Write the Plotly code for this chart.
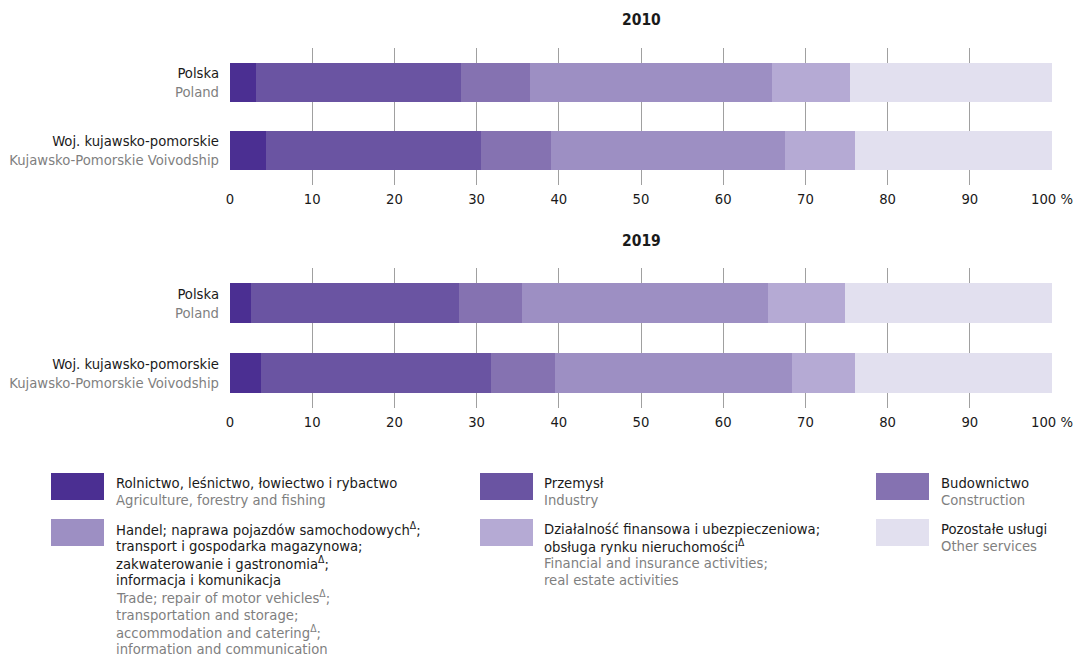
import plotly.graph_objects as go

OFF = 8  # page body margin
W, H = 1082 - OFF, 658 - OFF
FONT = "DejaVu Sans Condensed, Liberation Sans Narrow, sans-serif"
FS = 14.7
BLACK = "#1a1a1a"
GREY = "#7f7f7f"

# ---------------- data ----------------
regions_pl = ["Polska", "Woj. kujawsko-pomorskie"]
regions_en = ["Poland", "Kujawsko-Pomorskie Voivodship"]
years = ["2010", "2019"]

sectors_en = [
    "Agriculture, forestry and fishing",
    "Industry",
    "Construction",
    "Trade; repair of motor vehicles; transportation and storage; accommodation and catering; information and communication",
    "Financial and insurance activities; real estate activities",
    "Other services",
]
colors = ["#4b2f92", "#6a54a2", "#8572b1", "#9d8fc3", "#b5aad4", "#e2e0ef"]

# shares in % (sector order as above)
poland_2010 = [3.2, 24.9, 8.4, 29.4, 9.5, 24.6]
kujawsko_2010 = [4.4, 26.1, 8.5, 28.5, 8.5, 24.0]
poland_2019 = [2.5, 25.4, 7.6, 30.0, 9.3, 25.2]
kujawsko_2019 = [3.8, 27.9, 7.8, 28.9, 7.6, 24.0]

x_ticks = [0, 10, 20, 30, 40, 50, 60, 70, 80, 90, 100]
x_tick_labels = ["0", "10", "20", "30", "40", "50", "60", "70", "80", "90", "100 %"]

# legend text, line by line (Polish lines, English lines)
legend_lines = [
    (["Rolnictwo, leśnictwo, łowiectwo i rybactwo"], ["Agriculture, forestry and fishing"]),
    (["Przemysł"], ["Industry"]),
    (["Budownictwo"], ["Construction"]),
    (["Handel; naprawa pojazdów samochodowych<sup>Δ</sup>;", "transport i gospodarka magazynowa;",
      "zakwaterowanie i gastronomia<sup>Δ</sup>;", "informacja i komunikacja"],
     ["Trade; repair of motor vehicles<sup>Δ</sup>;", "transportation and storage;",
      "accommodation and catering<sup>Δ</sup>;", "information and communication"]),
    (["Działalność finansowa i ubezpieczeniowa;", "obsługa rynku nieruchomości<sup>Δ</sup>"],
     ["Financial and insurance activities;", "real estate activities"]),
    (["Pozostałe usługi"], ["Other services"]),
]

# ---------------- figure ----------------
def px_x(x):
    return (x - OFF) / W

def px_y(y):
    return 1 - (y - OFF) / H

fig = go.Figure()
series = {"2010": (poland_2010, kujawsko_2010), "2019": (poland_2019, kujawsko_2019)}
for k, year in enumerate(years):
    pol, kp = series[year]
    xa = "x" if k == 0 else "x2"
    ya = "y" if k == 0 else "y2"
    for i in range(len(colors)):
        fig.add_trace(go.Bar(
            orientation="h", x=[pol[i], kp[i]], y=regions_pl,
            marker=dict(color=colors[i], line=dict(width=0)),
            width=0.57, showlegend=False, xaxis=xa, yaxis=ya,
            name=sectors_en[i], hoverinfo="x+y",
        ))

ticktext_y = [f"<span style='color:{BLACK}'>{p}</span><br><span style='color:{GREY}'>{e}</span>"
              for p, e in zip(regions_pl, regions_en)]

xax = dict(range=[0, 100], tickvals=x_ticks, ticktext=x_tick_labels, showgrid=True,
           gridcolor="#a0a0a0", gridwidth=1, zeroline=False, showline=False, ticks="",
           ticklabelstandoff=3,
           tickfont=dict(family=FONT, size=FS, color=BLACK), fixedrange=True, automargin=False,
           domain=[px_x(230), px_x(1052)])
yax = dict(categoryorder="array", categoryarray=regions_pl, autorange="reversed",
           tickvals=regions_pl, ticktext=ticktext_y, showgrid=False, zeroline=False,
           ticks="", ticklabelstandoff=10, tickfont=dict(family=FONT, size=FS),
           fixedrange=True, automargin=False)

plot_tops = [48, 268]
plot_bottoms = [185, 408]

fig.update_layout(
    width=W, height=H, margin=dict(l=0, r=0, t=0, b=0, autoexpand=False),
    barmode="stack",
    plot_bgcolor="white", paper_bgcolor="white",
    font=dict(family=FONT, size=FS, color=BLACK),
    xaxis=dict(xax, anchor="y"),
    yaxis=dict(yax, anchor="x", domain=[px_y(plot_bottoms[0]), px_y(plot_tops[0])]),
    xaxis2=dict(xax, anchor="y2"),
    yaxis2=dict(yax, anchor="x2", domain=[px_y(plot_bottoms[1]), px_y(plot_tops[1])]),
    showlegend=False,
)

annotations = []
shapes = []
# year titles
for year, y in zip(years, [20, 241]):
    annotations.append(dict(text=f"<b>{year}</b>", x=px_x(641), y=px_y(y), xref="paper", yref="paper",
                            showarrow=False, xanchor="center", yanchor="middle", borderpad=0,
                            font=dict(family=FONT, size=15.5, color=BLACK)))

# legend
swatch_x = [51, 480, 876]
text_x = [115, 543, 940]
row_top = [473, 519]
line_h = 17.2
for idx, (pl_lines, en_lines) in enumerate(legend_lines):
    col = idx % 3
    row = idx // 3
    shapes.append(dict(type="rect", xref="paper", yref="paper",
                       x0=px_x(swatch_x[col]), x1=px_x(swatch_x[col] + 53),
                       y0=px_y(row_top[row]), y1=px_y(row_top[row] + 27),
                       fillcolor=colors[idx], line=dict(width=0)))
    y0 = row_top[row] + 9
    lines = [(t, BLACK) for t in pl_lines] + [(t, GREY) for t in en_lines]
    for j, (t, c) in enumerate(lines):
        annotations.append(dict(text=t, x=px_x(text_x[col]), y=px_y(y0 + j * line_h),
                                xref="paper", yref="paper", showarrow=False, borderpad=0,
                                xanchor="left", yanchor="middle",
                                font=dict(family=FONT, size=FS, color=c)))

fig.update_layout(annotations=annotations, shapes=shapes)
fig.write_html("out.html")
